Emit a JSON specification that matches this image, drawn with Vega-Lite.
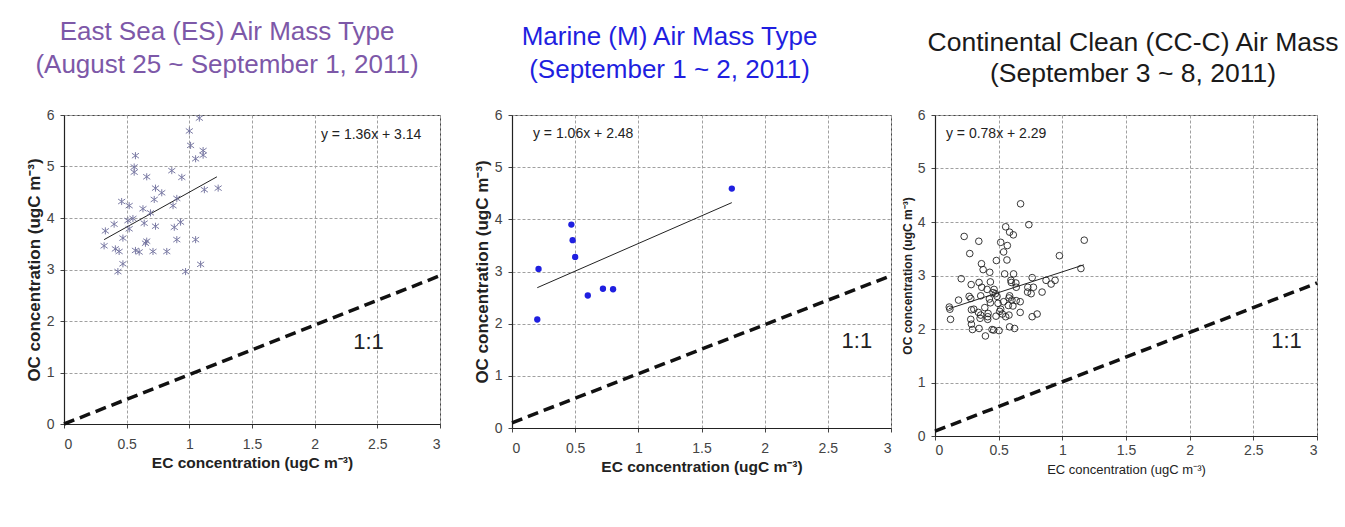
{
  "$schema": "https://vega.github.io/schema/vega-lite/v6.json",
  "background": "white",
  "padding": {"left": 24, "top": 18, "right": 0, "bottom": 0},
  "config": {
    "font": "Liberation Sans",
    "view": {"stroke": "#444", "strokeWidth": 1},
    "axis": {
      "grid": true, "gridColor": "#a0a0a0", "gridDash": [3, 2], "gridWidth": 1,
      "domainColor": "#222", "domainWidth": 1.2,
      "tickColor": "#444", "tickSize": 4,
      "labelColor": "#444", "labelFont": "Liberation Sans", "labelFontSize": 14,
      "titleFont": "Liberation Sans", "titleColor": "#222"
    },
    "axisX": {"labelPadding": 9, "titlePadding": 4},
    "axisY": {"labelPadding": 6, "titlePadding": 3},
    "title": {"font": "Liberation Sans", "fontSize": 26, "fontWeight": "normal", "lineHeight": 33, "anchor": "middle", "frame": "group"}
  },
  "datasets": {
    "es": [
      {"ec":1.08,"oc":5.94},{"ec":1.0,"oc":5.69},{"ec":1.01,"oc":5.41},{"ec":1.11,"oc":5.31},{"ec":1.11,"oc":5.22},{"ec":1.05,"oc":5.15},
      {"ec":0.57,"oc":5.21},{"ec":0.56,"oc":4.99},{"ec":0.56,"oc":4.89},{"ec":0.66,"oc":4.8},{"ec":0.86,"oc":4.92},{"ec":0.94,"oc":4.79},
      {"ec":0.73,"oc":4.58},{"ec":0.78,"oc":4.49},{"ec":0.72,"oc":4.36},{"ec":0.9,"oc":4.38},{"ec":1.12,"oc":4.55},{"ec":1.23,"oc":4.58},
      {"ec":0.87,"oc":4.24},{"ec":0.46,"oc":4.32},{"ec":0.52,"oc":4.24},{"ec":0.63,"oc":4.18},{"ec":0.69,"oc":4.1},{"ec":0.51,"oc":3.95},
      {"ec":0.55,"oc":3.99},{"ec":0.52,"oc":3.79},{"ec":0.64,"oc":3.9},{"ec":0.4,"oc":3.88},{"ec":0.33,"oc":3.75},{"ec":0.73,"oc":3.84},
      {"ec":0.88,"oc":3.82},{"ec":0.93,"oc":3.92},{"ec":0.47,"oc":3.61},{"ec":0.32,"oc":3.46},{"ec":0.41,"oc":3.4},{"ec":0.44,"oc":3.35},
      {"ec":0.66,"oc":3.55},{"ec":0.65,"oc":3.51},{"ec":0.57,"oc":3.37},{"ec":0.6,"oc":3.34},{"ec":0.71,"oc":3.35},{"ec":0.82,"oc":3.35},
      {"ec":0.9,"oc":3.58},{"ec":1.05,"oc":3.58},{"ec":0.47,"oc":3.11},{"ec":0.43,"oc":2.96},{"ec":0.97,"oc":2.96},{"ec":1.09,"oc":3.1}
    ],
    "m": [
      {"ec":1.74,"oc":4.59},{"ec":0.47,"oc":3.9},{"ec":0.48,"oc":3.6},{"ec":0.5,"oc":3.28},{"ec":0.21,"oc":3.05},
      {"ec":0.6,"oc":2.54},{"ec":0.72,"oc":2.67},{"ec":0.8,"oc":2.66},{"ec":0.2,"oc":2.08}
    ],
    "cc": [
      {"ec":0.672,"oc":4.34},{"ec":0.737,"oc":3.95},{"ec":0.555,"oc":3.91},{"ec":0.586,"oc":3.81},{"ec":0.615,"oc":3.76},{"ec":0.229,"oc":3.73},
      {"ec":0.344,"oc":3.64},{"ec":0.516,"oc":3.62},{"ec":1.172,"oc":3.66},{"ec":0.568,"oc":3.56},{"ec":0.539,"oc":3.44},{"ec":0.273,"oc":3.41},
      {"ec":0.565,"oc":3.29},{"ec":0.482,"oc":3.28},{"ec":0.977,"oc":3.37},{"ec":0.365,"oc":3.22},{"ec":0.378,"oc":3.11},{"ec":0.43,"oc":3.06},
      {"ec":0.547,"oc":3.03},{"ec":0.617,"oc":3.03},{"ec":1.146,"oc":3.13},{"ec":0.206,"oc":2.94},{"ec":0.763,"oc":2.96},{"ec":0.596,"oc":2.91},
      {"ec":0.599,"oc":2.87},{"ec":0.635,"oc":2.86},{"ec":0.284,"oc":2.83},{"ec":0.346,"oc":2.87},{"ec":0.435,"oc":2.88},{"ec":0.872,"oc":2.91},
      {"ec":0.943,"oc":2.91},{"ec":0.912,"oc":2.84},{"ec":0.367,"oc":2.78},{"ec":0.409,"oc":2.74},{"ec":0.464,"oc":2.74},{"ec":0.729,"oc":2.78},
      {"ec":0.773,"oc":2.78},{"ec":0.638,"oc":2.78},{"ec":0.727,"oc":2.69},{"ec":0.755,"oc":2.66},{"ec":0.841,"oc":2.69},{"ec":0.185,"oc":2.54},
      {"ec":0.268,"oc":2.61},{"ec":0.281,"oc":2.57},{"ec":0.359,"oc":2.62},{"ec":0.456,"oc":2.68},{"ec":0.474,"oc":2.66},{"ec":0.487,"oc":2.61},
      {"ec":0.586,"oc":2.62},{"ec":0.581,"oc":2.58},{"ec":0.604,"oc":2.54},{"ec":0.638,"oc":2.53},{"ec":0.669,"oc":2.51},{"ec":0.427,"oc":2.56},
      {"ec":0.435,"oc":2.49},{"ec":0.495,"oc":2.48},{"ec":0.539,"oc":2.51},{"ec":0.576,"oc":2.44},{"ec":0.612,"oc":2.43},{"ec":0.112,"oc":2.41},
      {"ec":0.117,"oc":2.37},{"ec":0.286,"oc":2.36},{"ec":0.305,"oc":2.37},{"ec":0.391,"oc":2.4},{"ec":0.516,"oc":2.37},{"ec":0.508,"oc":2.33},
      {"ec":0.529,"oc":2.28},{"ec":0.341,"oc":2.31},{"ec":0.359,"oc":2.26},{"ec":0.417,"oc":2.29},{"ec":0.414,"oc":2.23},{"ec":0.414,"oc":2.18},
      {"ec":0.354,"oc":2.2},{"ec":0.479,"oc":2.24},{"ec":0.555,"oc":2.23},{"ec":0.581,"oc":2.26},{"ec":0.669,"oc":2.31},{"ec":0.763,"oc":2.23},
      {"ec":0.802,"oc":2.28},{"ec":0.122,"oc":2.18},{"ec":0.281,"oc":2.18},{"ec":0.286,"oc":2.09},{"ec":0.294,"oc":1.99},{"ec":0.346,"oc":2.01},
      {"ec":0.448,"oc":1.99},{"ec":0.461,"oc":1.98},{"ec":0.503,"oc":1.97},{"ec":0.586,"oc":2.04},{"ec":0.625,"oc":2.01},{"ec":0.396,"oc":1.87}
    ],
    "lines": [
      {"panel":"es","kind":"fit","ec":0.32,"oc":3.58},{"panel":"es","kind":"fit","ec":1.22,"oc":4.8},
      {"panel":"es","kind":"one","ec":0,"oc":0},{"panel":"es","kind":"one","ec":3,"oc":2.88},
      {"panel":"m","kind":"fit","ec":0.2,"oc":2.69},{"panel":"m","kind":"fit","ec":1.74,"oc":4.32},
      {"panel":"m","kind":"one","ec":0,"oc":0.1},{"panel":"m","kind":"one","ec":3,"oc":2.92},
      {"panel":"cc","kind":"fit","ec":0.11,"oc":2.38},{"panel":"cc","kind":"fit","ec":1.17,"oc":3.2},
      {"panel":"cc","kind":"one","ec":0,"oc":0.09},{"panel":"cc","kind":"one","ec":3,"oc":2.86}
    ],
    "notes": [
      {"panel":"es","kind":"eq","label":"y = 1.36x + 3.14","ec":2.05,"oc":5.61},
      {"panel":"es","kind":"ratio","label":"1:1","ec":2.43,"oc":1.59},
      {"panel":"m","kind":"eq","label":"y = 1.06x + 2.48","ec":0.166,"oc":5.63},
      {"panel":"m","kind":"ratio","label":"1:1","ec":2.73,"oc":1.67},
      {"panel":"cc","kind":"eq","label":"y = 0.78x + 2.29","ec":0.086,"oc":5.64},
      {"panel":"cc","kind":"ratio","label":"1:1","ec":2.76,"oc":1.78}
    ]
  },
  "hconcat": [
    {
      "spacing": 24,
      "resolve": {"scale": {"x": "independent", "y": "independent"}},
      "hconcat": [
        {
          "width": 376, "height": 309,
          "title": {"text": ["East Sea (ES) Air Mass Type", "(August 25 ~ September 1, 2011)"], "color": "#7d58a8", "dx": -25, "offset": 30},
          "encoding": {
            "x": {"field": "ec", "type": "quantitative", "scale": {"domain": [0, 3], "nice": false}, "axis": {"values": [0, 0.5, 1, 1.5, 2, 2.5, 3], "format": "~g", "title": "EC concentration (ugC m⁻³)", "titleFontSize": 15.5, "titleFontWeight": "bold"}},
            "y": {"field": "oc", "type": "quantitative", "scale": {"domain": [0, 6], "nice": false}, "axis": {"values": [0, 1, 2, 3, 4, 5, 6], "title": "OC concentration (ugC m⁻³)", "titleFontSize": 17, "titleFontWeight": "bold"}}
          },
          "layer": [
            {"data": {"name": "lines"}, "transform": [{"filter": "datum.panel == 'es' && datum.kind == 'one'"}], "mark": {"type": "line", "color": "#111", "strokeWidth": 3.5, "strokeDash": [11, 6]}},
            {"data": {"name": "lines"}, "transform": [{"filter": "datum.panel == 'es' && datum.kind == 'fit'"}], "mark": {"type": "line", "color": "#222", "strokeWidth": 1}},
            {"data": {"name": "es"}, "mark": {"type": "point", "shape": "M-1,-0.7L1,0.7M-1,0.7L1,-0.7M0,-1L0,1", "size": 50, "filled": false, "color": "#6e6e9c", "strokeWidth": 1, "opacity": 0.9}},
            {"data": {"name": "notes"}, "transform": [{"filter": "datum.panel == 'es' && datum.kind == 'eq'"}], "mark": {"type": "text", "align": "left", "baseline": "middle", "fontSize": 14, "color": "#222"}, "encoding": {"text": {"field": "label"}}},
            {"data": {"name": "notes"}, "transform": [{"filter": "datum.panel == 'es' && datum.kind == 'ratio'"}], "mark": {"type": "text", "align": "center", "baseline": "middle", "fontSize": 22, "color": "#222"}, "encoding": {"text": {"field": "label"}}}
          ]
        },
        {
          "width": 379, "height": 313,
          "title": {"text": ["Marine (M) Air Mass Type", "(September 1 ~ 2, 2011)"], "color": "#1f1fe0", "dx": -32, "offset": 25},
          "encoding": {
            "x": {"field": "ec", "type": "quantitative", "scale": {"domain": [0, 3], "nice": false}, "axis": {"values": [0, 0.5, 1, 1.5, 2, 2.5, 3], "format": "~g", "title": "EC concentration (ugC m⁻³)", "titleFontSize": 15.5, "titleFontWeight": "bold"}},
            "y": {"field": "oc", "type": "quantitative", "scale": {"domain": [0, 6], "nice": false}, "axis": {"values": [0, 1, 2, 3, 4, 5, 6], "title": "OC concentration (ugC m⁻³)", "titleFontSize": 17, "titleFontWeight": "bold"}}
          },
          "layer": [
            {"data": {"name": "lines"}, "transform": [{"filter": "datum.panel == 'm' && datum.kind == 'one'"}], "mark": {"type": "line", "color": "#111", "strokeWidth": 3.5, "strokeDash": [11, 6]}},
            {"data": {"name": "lines"}, "transform": [{"filter": "datum.panel == 'm' && datum.kind == 'fit'"}], "mark": {"type": "line", "color": "#222", "strokeWidth": 1}},
            {"data": {"name": "m"}, "mark": {"type": "circle", "size": 40, "color": "#1f1fe0", "opacity": 1}},
            {"data": {"name": "notes"}, "transform": [{"filter": "datum.panel == 'm' && datum.kind == 'eq'"}], "mark": {"type": "text", "align": "left", "baseline": "middle", "fontSize": 14, "color": "#222"}, "encoding": {"text": {"field": "label"}}},
            {"data": {"name": "notes"}, "transform": [{"filter": "datum.panel == 'm' && datum.kind == 'ratio'"}], "mark": {"type": "text", "align": "center", "baseline": "middle", "fontSize": 22, "color": "#222"}, "encoding": {"text": {"field": "label"}}}
          ]
        }
      ]
    },
    {
      "width": 382, "height": 321,
      "title": {"text": ["Continental Clean (CC-C) Air Mass", "(September 3 ~ 8, 2011)"], "color": "#1a1a1a", "dx": 7, "offset": 21, "fontSize": 26.5, "lineHeight": 31},
      "encoding": {
        "x": {"field": "ec", "type": "quantitative", "scale": {"domain": [0, 3], "nice": false}, "axis": {"values": [0, 0.5, 1, 1.5, 2, 2.5, 3], "format": "~g", "title": "EC concentration (ugC m⁻³)", "titleFontSize": 13, "titleFontWeight": "normal", "labelPadding": 3, "titlePadding": 6}},
        "y": {"field": "oc", "type": "quantitative", "scale": {"domain": [0, 6], "nice": false}, "axis": {"values": [0, 1, 2, 3, 4, 5, 6], "title": "OC concentration (ugC m⁻³)", "titleFontSize": 12, "titleFontWeight": "bold"}}
      },
      "layer": [
        {"data": {"name": "lines"}, "transform": [{"filter": "datum.panel == 'cc' && datum.kind == 'one'"}], "mark": {"type": "line", "color": "#111", "strokeWidth": 3.5, "strokeDash": [11, 6]}},
        {"data": {"name": "lines"}, "transform": [{"filter": "datum.panel == 'cc' && datum.kind == 'fit'"}], "mark": {"type": "line", "color": "#222", "strokeWidth": 1}},
        {"data": {"name": "cc"}, "mark": {"type": "point", "shape": "circle", "size": 44, "filled": false, "color": "#222", "strokeWidth": 0.9, "opacity": 1}},
        {"data": {"name": "notes"}, "transform": [{"filter": "datum.panel == 'cc' && datum.kind == 'eq'"}], "mark": {"type": "text", "align": "left", "baseline": "middle", "fontSize": 14, "color": "#222"}, "encoding": {"text": {"field": "label"}}},
        {"data": {"name": "notes"}, "transform": [{"filter": "datum.panel == 'cc' && datum.kind == 'ratio'"}], "mark": {"type": "text", "align": "center", "baseline": "middle", "fontSize": 22, "color": "#222"}, "encoding": {"text": {"field": "label"}}}
      ]
    }
  ],
  "spacing": 1,
  "resolve": {"scale": {"x": "independent", "y": "independent"}}
}
